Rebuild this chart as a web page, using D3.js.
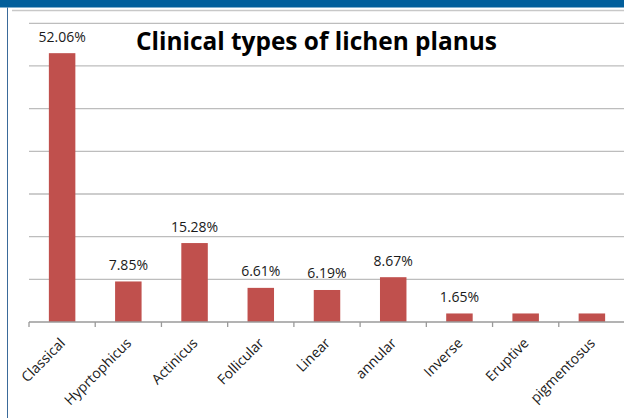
<!DOCTYPE html>
<html>
<head>
<meta charset="utf-8">
<script src="https://cdn.jsdelivr.net/npm/d3@7"></script>
<style>
  html, body { margin: 0; padding: 0; background: #fff; }
  svg { display: block; }
</style>
</head>
<body>
<div id="chart"></div>
<script>
// data (bar heights are patient counts, labels are the printed %)
const categories = ["Classical", "Hyprtophicus", "Actinicus", "Follicular", "Linear",
                    "annular", "Inverse", "Eruptive", "pigmentosus"];
const counts = [126, 19, 37, 16, 15, 21, 4, 4, 4];
const pctLabels = ["52.06%", "7.85%", "15.28%", "6.61%", "6.19%", "8.67%", "1.65%", "", ""];
const yTicks = [20, 40, 60, 80, 100, 120, 140];

const width = 624, height = 418;
const plotLeft = 29, plotRight = 625, plotBase = 322, plotTop = 23.3;

const svg = d3.select("#chart").append("svg")
    .attr("width", width)
    .attr("height", height);

// slide frame: blue band (slide heading cut off above), grey rule, left edge
svg.append("rect")
    .attr("x", 0).attr("y", 0)
    .attr("width", width).attr("height", 7.5)
    .attr("fill", "#015e9b");
svg.append("line")
    .attr("x1", 12).attr("x2", width)
    .attr("y1", 10.5).attr("y2", 10.5)
    .attr("stroke", "#c8c8c8").attr("stroke-width", 1.5);
svg.append("line")
    .attr("x1", 7.5).attr("x2", 7.5)
    .attr("y1", 7.5).attr("y2", height)
    .attr("stroke", "#3a6a9a").attr("stroke-width", 1);

const x = d3.scaleBand()
    .domain(categories)
    .range([plotLeft, plotRight])
    .paddingInner(0.6)
    .paddingOuter(0.3);

const y = d3.scaleLinear()
    .domain([0, 140])
    .range([plotBase, plotTop]);

// gridlines
svg.append("g")
    .selectAll("line")
    .data(yTicks)
    .enter().append("line")
    .attr("x1", plotLeft).attr("x2", width)
    .attr("y1", d => y(d)).attr("y2", d => y(d))
    .attr("stroke", "#bdbdbd")
    .attr("stroke-width", 1.3);

// bars
svg.append("g")
    .selectAll("rect")
    .data(counts)
    .enter().append("rect")
    .attr("x", (d, i) => x(categories[i]))
    .attr("y", d => y(d))
    .attr("width", x.bandwidth())
    .attr("height", d => y(0) - y(d))
    .attr("fill", "#c0504d");

// x axis line + tick marks between categories
svg.append("line")
    .attr("x1", plotLeft).attr("x2", width)
    .attr("y1", y(0)).attr("y2", y(0))
    .attr("stroke", "#9a9a9a").attr("stroke-width", 1.3);
svg.append("g")
    .selectAll("line")
    .data(d3.range(categories.length + 1))
    .enter().append("line")
    .attr("x1", i => plotLeft + i * x.step())
    .attr("x2", i => plotLeft + i * x.step())
    .attr("y1", y(0)).attr("y2", y(0) + 5)
    .attr("stroke", "#9a9a9a").attr("stroke-width", 1.3);

// value labels
svg.append("g")
    .selectAll("text")
    .data(counts)
    .enter().append("text")
    .attr("x", (d, i) => x(categories[i]) + x.bandwidth() / 2)
    .attr("y", d => y(d) - 11.5)
    .attr("text-anchor", "middle")
    .attr("fill", "#1a1a1a")
    .style("font-family", "Open Sans, sans-serif")
    .style("font-size", "14px")
    .text((d, i) => pctLabels[i]);

// category labels, rotated
svg.append("g")
    .selectAll("text")
    .data(categories)
    .enter().append("text")
    .attr("transform", d => "translate(" + (x(d) + x.bandwidth() / 2 + 4) + "," + 344 + ") rotate(-45)")
    .attr("text-anchor", "end")
    .attr("fill", "#1a1a1a")
    .style("font-family", "Open Sans, sans-serif")
    .style("font-size", "14px")
    .text(d => d);

// title
const title = svg.append("text")
    .attr("x", 136)
    .attr("y", 50)
    .attr("fill", "#000")
    .style("font-family", "Open Sans, sans-serif")
    .style("font-weight", "bold")
    .style("font-size", "100px")
    .text("Clinical types of lichen planus");
const w100 = title.node().getComputedTextLength();
title.style("font-size", (100 * 361 / w100) + "px");
</script>
</body>
</html>
